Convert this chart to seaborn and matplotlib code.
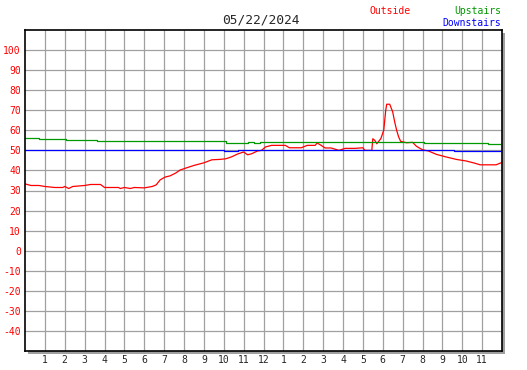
import matplotlib
matplotlib.use("Agg")
import seaborn as sns
import matplotlib.pyplot as plt
from matplotlib.patches import Rectangle

# hours since midnight / temperatures
outside_hours = [
    0, 0.3, 0.7, 1.0, 1.5, 1.9, 2.0, 2.2, 2.4, 3.0,
    3.3, 3.8, 4.0, 4.7, 4.8, 5.0, 5.3, 5.5, 6.0, 6.4,
    6.6, 6.8, 7.05, 7.3, 7.6, 7.8, 8.1, 8.5, 9.0, 9.4,
    9.8, 10.1, 10.4, 10.7, 11.0, 11.2, 11.4, 11.7, 11.9, 12.1,
    12.4, 13.1, 13.3, 13.9, 14.2, 14.6, 14.7, 14.9, 15.1, 15.4,
    15.8, 16.1, 16.6, 17.0, 17.1, 17.45, 17.5, 17.6, 17.7, 17.9,
    18.05, 18.15, 18.2, 18.35, 18.5, 18.6, 18.7, 18.8, 18.9, 19.2,
    19.5, 19.7, 20.0, 20.3, 20.7, 21.2, 21.7, 22.2, 22.6, 22.9,
    23.7, 24.0,
]
outside_temps = [
    33.3, 32.5, 32.5, 32, 31.5, 31.5, 32, 31, 32, 32.5,
    33, 33, 31.5, 31.5, 31, 31.5, 31, 31.5, 31.3, 32,
    32.8, 35.3, 36.7, 37.3, 38.8, 40.2, 41.2, 42.5, 43.8, 45.3,
    45.5, 45.8, 46.8, 48.2, 49.2, 47.8, 48.3, 49.7, 50, 51.7,
    52.5, 52.5, 51.3, 51.3, 52.5, 52.5, 53.7, 52.5, 51.2, 51.2,
    50, 51, 51, 51.3, 50, 50, 55.8, 55, 53.3, 55.8,
    60, 70, 73, 73, 69.2, 64.2, 60, 56.7, 54.5, 53.8,
    54, 52, 50.3, 49.7, 48, 46.7, 45.5, 44.7, 43.7, 42.8,
    42.8, 44,
]

upstairs_hours = [0, 0.7, 2.05, 3.6, 10.1, 11.2, 11.5, 11.8, 20.1, 23.3, 23.5, 23.6, 24]
upstairs_temps = [56, 55.5, 55, 54.5, 53.5, 54, 53.5, 54, 53.5, 53, 53.3, 53, 53]

downstairs_hours = [0, 2.35, 10.0, 10.7, 21.6, 24]
downstairs_temps = [50.3, 50, 49.5, 50, 49.5, 49.5]

hour_labels = [str(h) for h in range(1, 13)] + [str(h) for h in range(1, 12)]
y_ticks = list(range(-40, 101, 10))

sns.set_style("white")
plt.rcParams['font.family'] = ['DejaVu Sans Mono']

W, H = 527, 370
fig = plt.figure(figsize=(W / 100, H / 100), dpi=100)
ax = fig.add_axes([25 / W, 19 / H, 477 / W, 321 / H])
ax.set_zorder(1)

# drop shadow behind the plot frame
fig.patches.append(Rectangle((28 / W, 16 / H), 477 / W, 321 / H,
                             transform=fig.transFigure, facecolor='#a0a0a0',
                             edgecolor='none', zorder=0))

sns.lineplot(x=outside_hours, y=outside_temps, color='#ff0000', lw=0.9,
             estimator=None, sort=False, ax=ax)
sns.lineplot(x=upstairs_hours, y=upstairs_temps, color='#009900', lw=0.9,
             estimator=None, sort=False, drawstyle='steps-post', ax=ax)
sns.lineplot(x=downstairs_hours, y=downstairs_temps, color='#0000ff', lw=0.9,
             estimator=None, sort=False, drawstyle='steps-post', ax=ax)

ax.set_xlim(0, 24)
ax.set_ylim(-50, 110)
ax.set_xticks(range(1, 24))
ax.set_xticklabels(hour_labels)
ax.set_yticks(y_ticks)
ax.set_yticklabels([str(v) for v in y_ticks])
ax.set_xlabel('')
ax.set_ylabel('')
ax.grid(True, color='#a0a0a0', lw=0.9)
ax.set_axisbelow(True)
ax.tick_params(direction='in', length=3, width=1, color='black', labelsize=7, pad=3)
ax.tick_params(axis='y', labelcolor='#ff0000')
for s in ax.spines.values():
    s.set_visible(True)
    s.set_color('black')
    s.set_linewidth(1.2)

fig.text(261 / W, 1 - 20 / H, '05/22/2024', ha='center', va='center', fontsize=9.3)
fig.text(370 / W, 1 - 11 / H, 'Outside', color='#ff0000', ha='left', va='center', fontsize=7)
fig.text(501 / W, 1 - 11 / H, 'Upstairs', color='#009900', ha='right', va='center', fontsize=7)
fig.text(501 / W, 1 - 23 / H, 'Downstairs', color='#0000ff', ha='right', va='center', fontsize=7)

fig.savefig('out.png', dpi=100)
